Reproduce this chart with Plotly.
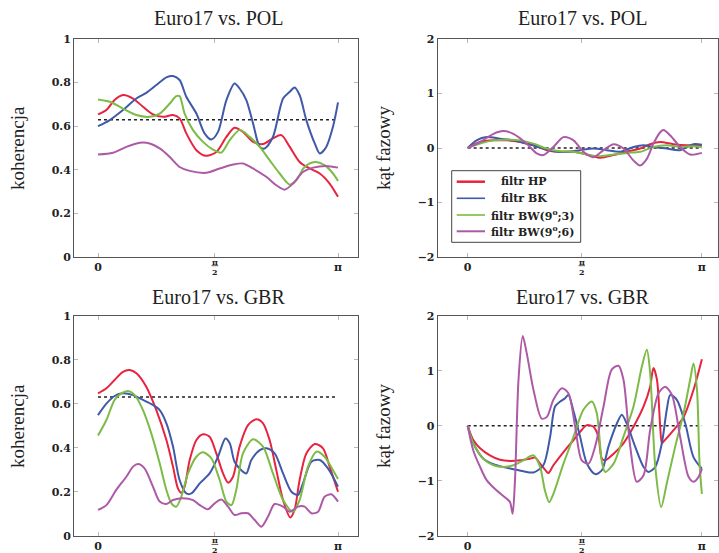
import plotly.graph_objects as go

# ---------------- data (x = frequency / pi) ----------------
# Euro17 vs. POL -- coherence
tl_red_x = [0, .035, .069, .104, .146, .1875, .229, .271, .3125, .340, .368, .410, .451, .493, .535, .569, .604, .646, .6875, .729, .764, .799, .840, .882, .924, .965, 1.0]
tl_red_y = [.654, .674, .720, .743, .727, .689, .654, .643, .651, .636, .567, .490, .464, .482, .551, .593, .574, .528, .518, .544, .559, .505, .436, .406, .383, .337, .276]
tl_blue_x = [0, .049, .104, .160, .201, .243, .285, .3125, .340, .368, .410, .444, .472, .5, .535, .569, .590, .618, .646, .674, .694, .729, .771, .799, .819, .840, .868, .903, .924, .951, .979, 1.0]
tl_blue_y = [.600, .628, .674, .727, .753, .789, .824, .830, .812, .735, .658, .567, .539, .574, .720, .796, .773, .720, .613, .505, .498, .551, .727, .758, .778, .743, .628, .521, .475, .505, .597, .709]
tl_green_x = [0, .049, .104, .160, .215, .257, .299, .326, .340, .361, .396, .4375, .479, .514, .549, .590, .632, .674, .715, .757, .799, .826, .861, .903, .944, .979, 1.0]
tl_green_y = [.723, .712, .681, .651, .643, .658, .704, .738, .738, .658, .582, .528, .493, .479, .536, .582, .551, .505, .444, .383, .332, .352, .413, .436, .421, .383, .349]
tl_purple_x = [0, .0625, .118, .174, .215, .257, .299, .340, .382, .451, .507, .5625, .604, .646, .701, .743, .778, .8125, .854, .896, .951, 1.0]
tl_purple_y = [.470, .478, .505, .524, .521, .498, .459, .413, .395, .386, .406, .424, .429, .406, .368, .329, .309, .337, .390, .410, .418, .410]

# Euro17 vs. POL -- phase angle
tr_red_x = [0, .053, .110, .167, .224, .281, .338, .395, .452, .509, .566, .623, .679, .736, .779, .822, .879, .936, 1.0]
tr_red_y = [0, .11, .14, .14, .11, .05, -.04, -.07, -.07, -.12, -.18, -.13, -.07, -.01, .07, .11, .07, .05, .05]
tr_blue_x = [0, .038, .081, .138, .195, .252, .309, .366, .423, .480, .537, .594, .651, .708, .751, .793, .850, .907, .964, 1.0]
tr_blue_y = [0, .14, .20, .17, .14, .08, .01, -.06, -.07, -.04, -.01, -.04, -.07, .02, .05, .02, -.01, -.04, .07, .06]
tr_green_x = [0, .053, .110, .167, .224, .281, .338, .395, .452, .509, .566, .623, .679, .736, .793, .850, .907, .964, 1.0]
tr_green_y = [0, .08, .14, .15, .14, .08, -.01, -.06, -.07, -.12, -.15, -.12, -.09, -.07, .02, .05, .02, .03, .02]
tr_purple_x = [0, .053, .110, .152, .195, .252, .295, .323, .366, .409, .452, .494, .537, .580, .623, .665, .708, .736, .765, .793, .822, .836, .865, .907, .950, 1.0]
tr_purple_y = [0, .11, .26, .31, .26, .08, -.10, -.13, .02, .20, .14, -.07, -.17, -.04, .07, -.01, -.23, -.32, -.20, .08, .29, .33, .23, .02, -.12, -.09]

# Euro17 vs. GBR -- coherence
bl_red_x = [0, .035, .069, .104, .132, .160, .201, .243, .285, .3125, .333, .347, .361, .382, .410, .4375, .465, .493, .521, .542, .5625, .590, .625, .660, .6875, .715, .743, .771, .801, .819, .840, .868, .903, .9375, .965, 1.0]
bl_red_y = [.647, .670, .708, .745, .753, .738, .677, .571, .435, .314, .215, .195, .223, .344, .435, .461, .450, .374, .283, .241, .268, .405, .503, .529, .511, .435, .298, .162, .083, .117, .253, .374, .417, .397, .314, .200]
bl_blue_x = [0, .035, .069, .104, .146, .1875, .229, .257, .285, .3125, .340, .368, .389, .424, .465, .5, .531, .549, .569, .597, .618, .639, .674, .701, .736, .771, .806, .833, .854, .889, .924, .958, 1.0]
bl_blue_y = [.548, .600, .635, .647, .639, .617, .594, .571, .511, .405, .253, .192, .192, .238, .283, .359, .442, .420, .336, .298, .283, .344, .389, .397, .374, .283, .200, .185, .238, .336, .344, .306, .223]
bl_green_x = [0, .035, .069, .097, .125, .153, .1875, .222, .257, .285, .306, .326, .347, .375, .410, .4375, .472, .507, .535, .556, .576, .604, .646, .6875, .729, .771, .8125, .840, .875, .910, .944, .979, 1.0]
bl_green_y = [.455, .526, .617, .647, .658, .639, .571, .465, .329, .208, .147, .132, .177, .283, .359, .379, .352, .253, .155, .139, .208, .374, .438, .405, .283, .162, .109, .162, .314, .382, .359, .298, .258]
bl_purple_x = [0, .035, .076, .118, .146, .167, .194, .229, .257, .285, .3125, .354, .396, .424, .458, .486, .514, .542, .569, .597, .625, .653, .681, .708, .736, .771, .799, .833, .861, .889, .917, .944, .972, 1.0]
bl_purple_y = [.117, .139, .208, .268, .314, .326, .306, .223, .155, .144, .162, .170, .162, .139, .120, .147, .165, .132, .094, .102, .102, .071, .041, .086, .144, .132, .109, .132, .132, .102, .109, .177, .188, .155]

# Euro17 vs. GBR -- phase angle
br_red_x = [0, .024, .053, .095, .138, .181, .224, .266, .288, .309, .338, .345, .366, .409, .452, .480, .509, .537, .558, .573, .587, .623, .665, .708, .751, .779, .793, .808, .822, .829, .836, .879, .922, .964, 1.0]
br_red_y = [0, -.26, -.41, -.54, -.62, -.64, -.63, -.60, -.58, -.69, -.84, -.86, -.72, -.48, -.26, -.11, .01, -.02, -.20, -.60, -.63, -.51, -.32, -.02, .35, .71, 1.05, .84, -.02, -.32, -.29, -.08, .16, .65, 1.21]
br_blue_x = [0, .024, .067, .110, .152, .195, .238, .281, .323, .352, .373, .395, .416, .430, .452, .480, .509, .544, .573, .601, .637, .658, .679, .715, .751, .772, .801, .829, .850, .865, .893, .929, .964, 1.0]
br_blue_y = [0, -.32, -.60, -.70, -.75, -.79, -.83, -.85, -.72, -.20, .35, .44, .50, .56, .26, -.20, -.69, -.88, -.81, -.38, .04, .20, .04, -.38, -.75, -.84, -.75, -.32, .29, .56, .47, .04, -.57, -.78]
br_green_x = [0, .024, .067, .110, .152, .195, .238, .281, .309, .330, .348, .366, .409, .452, .494, .530, .551, .573, .587, .623, .665, .708, .744, .765, .779, .801, .826, .850, .886, .922, .950, .964, .979, .990, 1.0]
br_green_y = [0, -.32, -.60, -.72, -.75, -.72, -.63, -.54, -.75, -1.18, -1.39, -1.24, -.69, -.20, .29, .44, .23, -.66, -.84, -.69, -.20, .35, 1.08, 1.38, .96, -.75, -1.48, -1.05, -.38, .23, .84, 1.13, .65, -.69, -1.24]
br_purple_x = [0, .024, .053, .081, .124, .167, .181, .192, .202, .217, .235, .252, .281, .316, .338, .366, .402, .430, .459, .487, .516, .544, .580, .615, .644, .665, .694, .722, .751, .779, .815, .843, .872, .907, .943, .964, .986, 1.0]
br_purple_y = [0, -.45, -.75, -.99, -1.18, -1.33, -1.39, -1.60, -.99, .84, 1.63, 1.32, .65, .13, .16, .47, .68, .59, -.02, -.63, -.69, -.38, .35, 1.02, 1.09, .84, -.38, -1.02, -.90, -.08, .59, .71, .56, -.20, -.93, -1.02, -.93, -.78]

ref_x = [0, 1]
coh_level = [0.63, 0.63]
phase_zero = [0, 0]

series_names = ["filtr HP", "filtr BK", "filtr BW(9<sup>o</sup>;3)", "filtr BW(9<sup>o</sup>;6)"]
colors = ["#e8233f", "#4059a8", "#7cbb45", "#ad5aa6"]

x_tickvals = [0, 0.487, 1]
x_ticktext = ["0", "", "π"]
coh_tickvals = [0, 0.2, 0.4, 0.6, 0.8, 1]
coh_ticktext = ["0", "0.2", "0.4", "0.6", "0.8", "1"]
ph_tickvals = [-2, -1, 0, 1, 2]
ph_ticktext = ["−2", "−1", "0", "1", "2"]

titles = ["Euro17 vs. POL", "Euro17 vs. POL", "Euro17 vs. GBR", "Euro17 vs. GBR"]

# ---------------- figure ----------------
W, H = 719, 553
fig = go.Figure()

panels = [
    ("x", "y", [(tl_red_x, tl_red_y), (tl_blue_x, tl_blue_y), (tl_green_x, tl_green_y), (tl_purple_x, tl_purple_y)], coh_level),
    ("x2", "y2", [(tr_red_x, tr_red_y), (tr_blue_x, tr_blue_y), (tr_green_x, tr_green_y), (tr_purple_x, tr_purple_y)], phase_zero),
    ("x3", "y3", [(bl_red_x, bl_red_y), (bl_blue_x, bl_blue_y), (bl_green_x, bl_green_y), (bl_purple_x, bl_purple_y)], coh_level),
    ("x4", "y4", [(br_red_x, br_red_y), (br_blue_x, br_blue_y), (br_green_x, br_green_y), (br_purple_x, br_purple_y)], phase_zero),
]

for xa, ya, series, ref in panels:
    fig.add_trace(go.Scatter(x=ref_x, y=ref, xaxis=xa, yaxis=ya, mode="lines",
                             line=dict(color="#222222", width=1.5, dash="dot"),
                             showlegend=False, hoverinfo="skip"))
    for (sx, sy), name, c in zip(series, series_names, colors):
        fig.add_trace(go.Scatter(x=sx, y=sy, xaxis=xa, yaxis=ya, mode="lines", name=name,
                                 line=dict(color=c, width=2, shape="spline", smoothing=0.8),
                                 showlegend=False))

tickfont = dict(family="DejaVu Serif", size=11, color="#222222", weight="bold")

def xax(domain, rng, anchor):
    return dict(domain=domain, range=rng, anchor=anchor, showline=True, linecolor="#555555",
                linewidth=1, mirror="allticks", ticks="inside", ticklen=4, tickcolor="#b8b8b8",
                tickvals=x_tickvals, ticktext=x_ticktext, tickfont=tickfont,
                showgrid=False, zeroline=False, automargin=False)

def yax(domain, rng, anchor, tv, tt):
    return dict(domain=domain, range=rng, anchor=anchor, showline=True, linecolor="#555555",
                linewidth=1, mirror="allticks", ticks="inside", ticklen=4, tickcolor="#b8b8b8",
                tickvals=tv, ticktext=tt, tickfont=tickfont, showgrid=False, zeroline=False,
                automargin=False)

xl = [74 / W, 358 / W]
xr = [437.7 / W, 718.3 / W]
yt = [1 - 257 / H, 1 - 39 / H]
yb = [1 - 535.7 / H, 1 - 315.7 / H]

fig.update_layout(
    width=W, height=H, margin=dict(l=0, r=0, t=0, b=0, autoexpand=False),
    paper_bgcolor="white", plot_bgcolor="white", showlegend=False,
    xaxis=xax(xl, [-0.1, 1.0833], "y"),
    yaxis=yax(yt, [0, 1], "x", coh_tickvals, coh_ticktext),
    xaxis2=xax(xr, [-0.128, 1.07], "y2"),
    yaxis2=yax(yt, [-2, 2], "x2", ph_tickvals, ph_ticktext),
    xaxis3=xax(xl, [-0.1, 1.0833], "y3"),
    yaxis3=yax(yb, [0, 1], "x3", coh_tickvals, coh_ticktext),
    xaxis4=xax(xr, [-0.128, 1.07], "y4"),
    yaxis4=yax(yb, [-2, 2], "x4", ph_tickvals, ph_ticktext),
)

# pi/2 stacked fraction tick labels
frac_font = dict(family="DejaVu Serif", size=8, color="#222222", weight="bold")
for xref_name, base in [("x", 257), ("x2", 257), ("x3", 535.7), ("x4", 535.7)]:
    fig.add_annotation(text="π", x=x_tickvals[1], y=1 - (base + 4.5) / H, xref=xref_name, yref="paper",
                       showarrow=False, xanchor="center", yanchor="middle", font=frac_font)
    fig.add_annotation(text="2", x=x_tickvals[1], y=1 - (base + 14.5) / H, xref=xref_name, yref="paper",
                       showarrow=False, xanchor="center", yanchor="middle", font=frac_font)
    fig.add_shape(type="line", xref=xref_name, yref="paper",
                  x0=x_tickvals[1] - 0.014, x1=x_tickvals[1] + 0.014,
                  y0=1 - (base + 8.7) / H, y1=1 - (base + 8.7) / H,
                  line=dict(color="#333333", width=0.8))

title_font = dict(family="Liberation Serif", size=20, color="#222222")
label_font = dict(family="Liberation Serif", size=19, color="#222222")
title_pos = [(218 / W, 1 - 18 / H), (582 / W, 1 - 18 / H), (218 / W, 1 - 297 / H), (582 / W, 1 - 297 / H)]
for t, (px, py) in zip(titles, title_pos):
    fig.add_annotation(text=t, x=px, y=py, xref="paper", yref="paper", showarrow=False,
                       xanchor="center", yanchor="middle", font=title_font)

ylabels = [("koherencja", 17, 148), ("kąt fazowy", 383, 148), ("koherencja", 17, 426), ("kąt fazowy", 383, 426)]
for t, px, py in ylabels:
    fig.add_annotation(text=t, x=px / W, y=1 - py / H, xref="paper", yref="paper", showarrow=False,
                       textangle=-90, xanchor="center", yanchor="middle", font=label_font)

# legend box (top-right panel)
fig.add_shape(type="rect", xref="paper", yref="paper",
              x0=451.7 / W, x1=580.7 / W, y0=1 - 242.3 / H, y1=1 - 170.7 / H,
              line=dict(color="#444444", width=1), fillcolor="white", layer="above")
legend_rows = [181.7, 198.3, 215.0, 231.3]
legend_text_cx = [524, 523.5, 532.5, 532.5]
legend_widths = [2.5, 1.6, 1.6, 2.0]
legend_font = dict(family="DejaVu Serif", size=11, color="#222222", weight="bold")
for name, c, ry, cx, lw in zip(series_names, colors, legend_rows, legend_text_cx, legend_widths):
    fig.add_shape(type="line", xref="paper", yref="paper",
                  x0=456.7 / W, x1=485 / W, y0=1 - ry / H, y1=1 - ry / H,
                  line=dict(color=c, width=lw), layer="above")
    fig.add_annotation(text=name, x=cx / W, y=1 - ry / H, xref="paper", yref="paper",
                       showarrow=False, xanchor="center", yanchor="middle", font=legend_font)

fig.write_html("out.html", config={"displayModeBar": False},
               post_script="document.body.style.margin='0';")
